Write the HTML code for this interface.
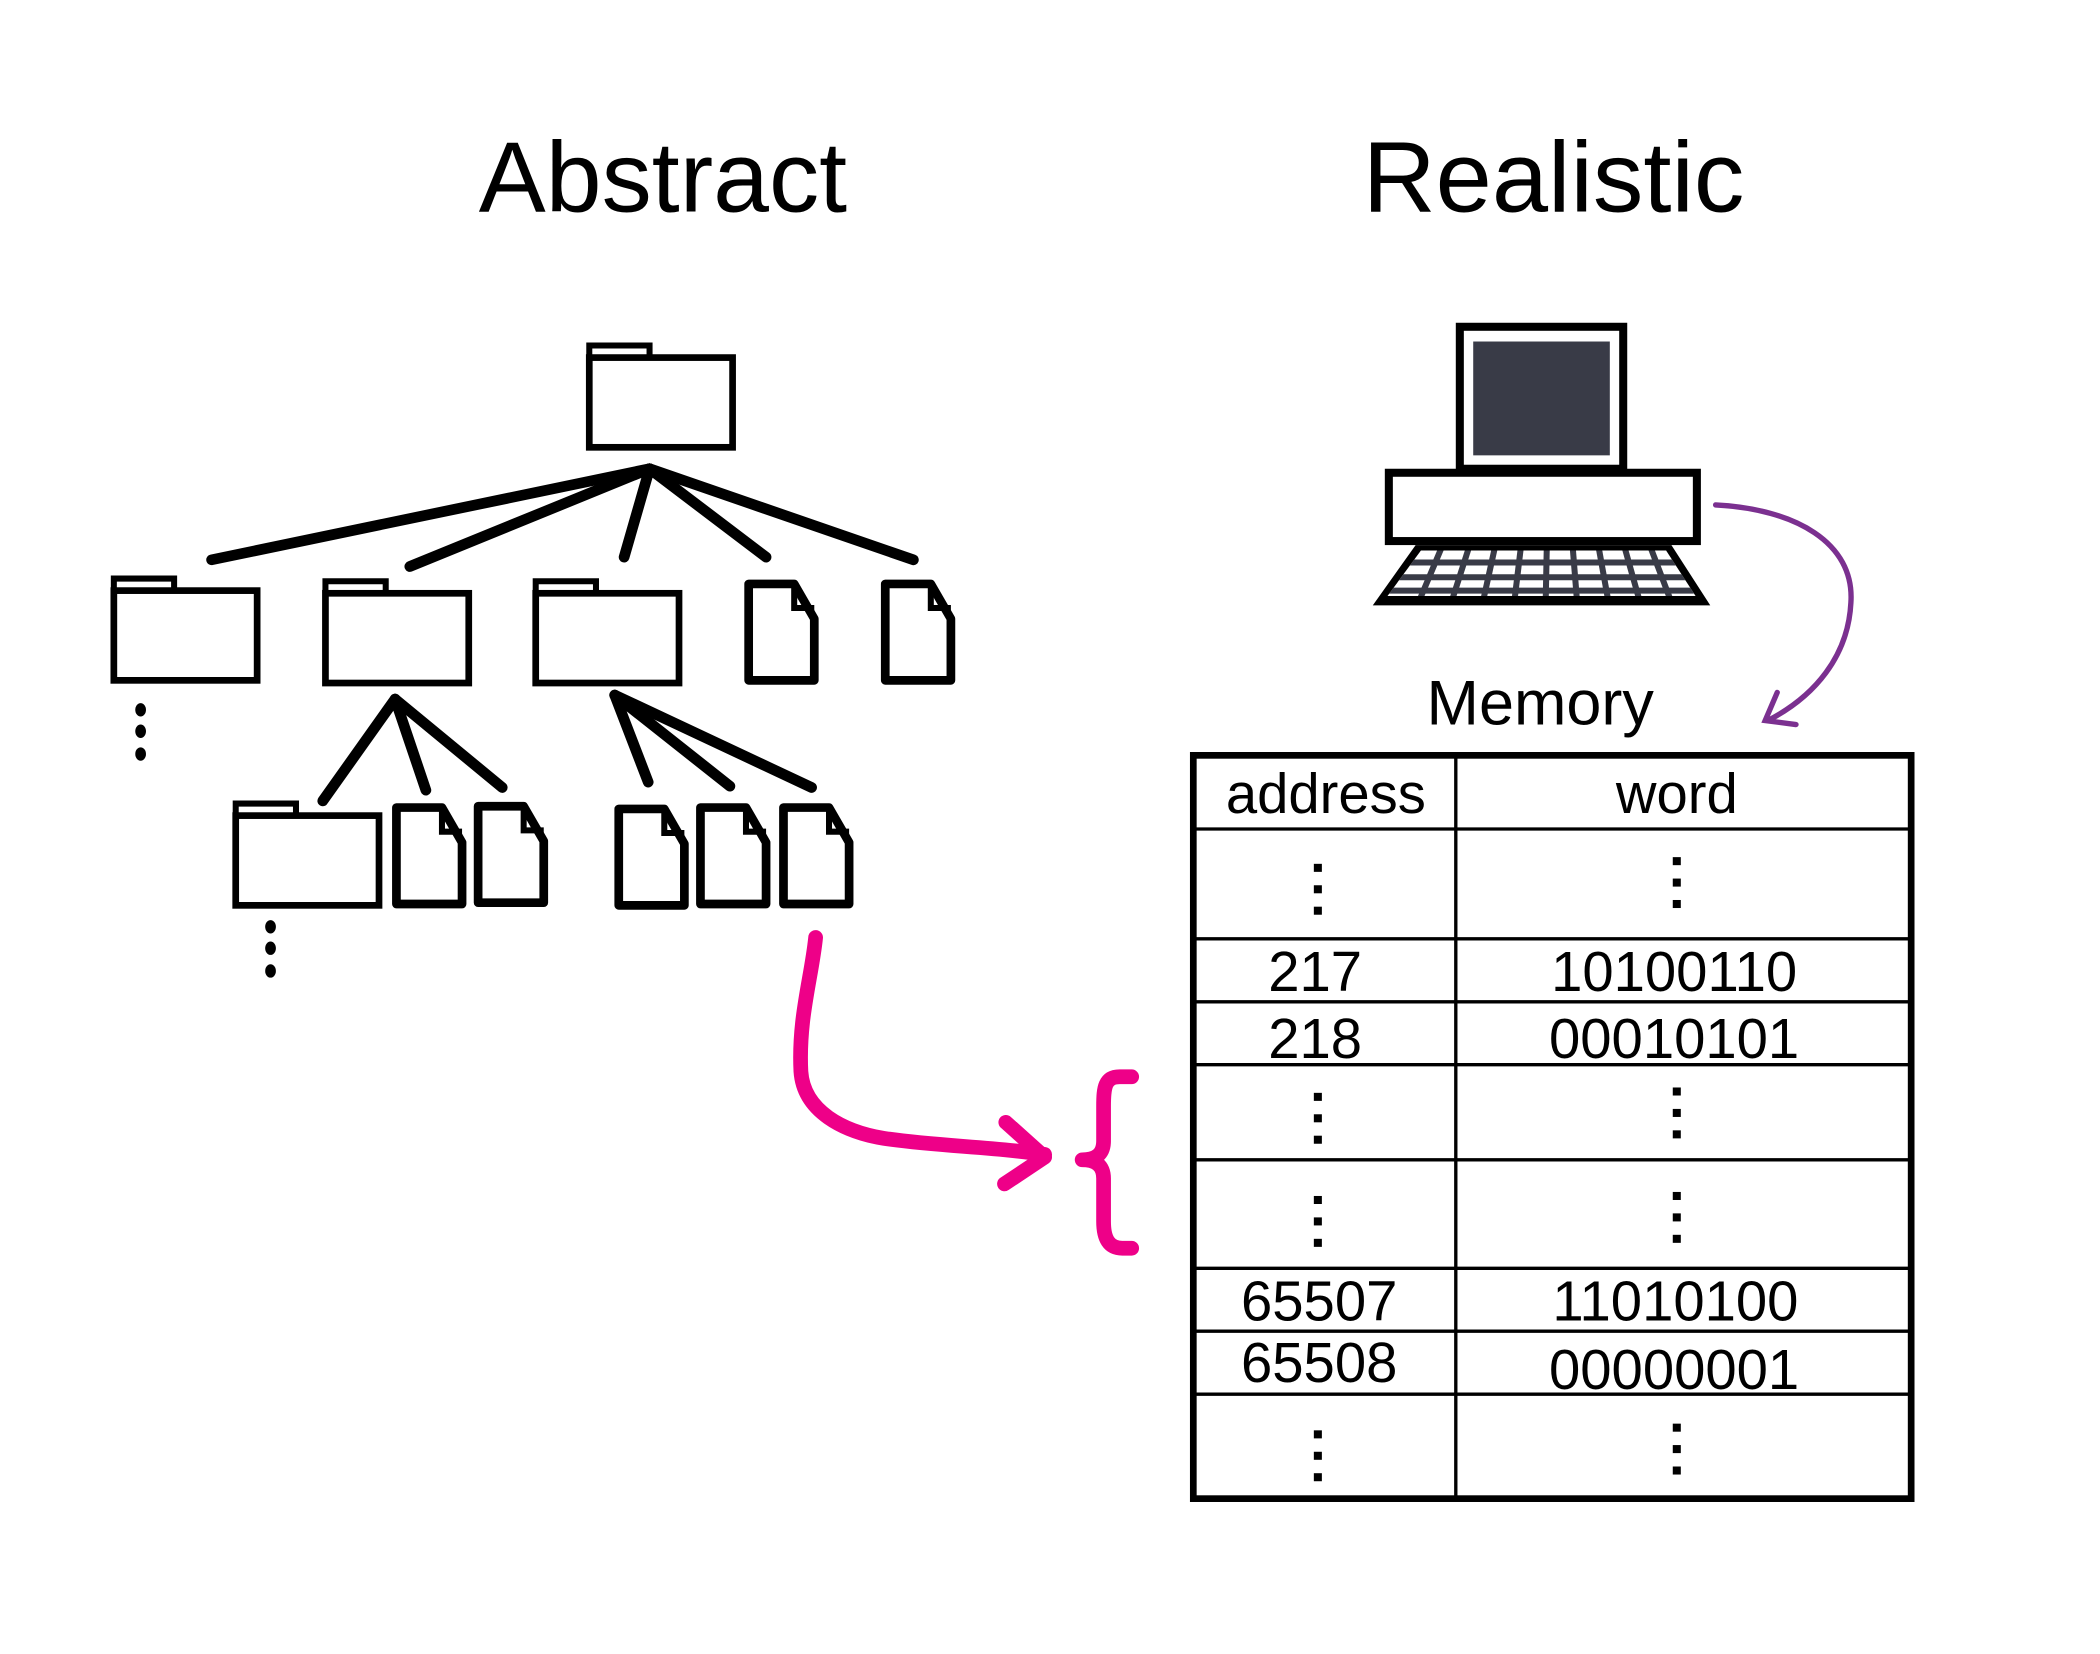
<!DOCTYPE html>
<html><head><meta charset="utf-8"><style>html,body{margin:0;padding:0;background:#fff}svg{display:block}</style></head>
<body>
<svg width="2100" height="1654" viewBox="0 0 1568 1235" preserveAspectRatio="none" xmlns="http://www.w3.org/2000/svg" font-family="Liberation Sans, Arial, sans-serif">
<defs>
<g id="fold">
<path d="M0 9 V0 H45 V9" fill="#fff" stroke="#000" stroke-width="4.5"/>
<rect x="0" y="9" width="107" height="67" fill="#fff" stroke="#000" stroke-width="5"/>
</g>
<g id="file">
<path d="M2 2 H36 L51 28 V74 H2 Z" fill="#fff" stroke="#000" stroke-width="6.5" stroke-linejoin="round"/>
<path d="M36 2 V20 H51" fill="none" stroke="#000" stroke-width="4.5"/>
</g>
</defs>
<text x="495" y="158" font-size="75" text-anchor="middle" textLength="275" lengthAdjust="spacingAndGlyphs">Abstract</text>
<text x="1160" y="158" font-size="75" text-anchor="middle" textLength="285" lengthAdjust="spacingAndGlyphs">Realistic</text>

<use href="#fold" x="440" y="258"/>
<g stroke="#000" stroke-width="8" stroke-linecap="round">
<line x1="485" y1="350" x2="158" y2="418"/>
<line x1="485" y1="350" x2="306" y2="423"/>
<line x1="485" y1="350" x2="466" y2="416"/>
<line x1="485" y1="350" x2="572" y2="416"/>
<line x1="485" y1="350" x2="682" y2="418"/>
<line x1="295" y1="522" x2="241" y2="598"/>
<line x1="295" y1="522" x2="318" y2="590"/>
<line x1="295" y1="522" x2="375" y2="588"/>
<line x1="459" y1="519" x2="484" y2="584"/>
<line x1="459" y1="519" x2="545" y2="587"/>
<line x1="459" y1="519" x2="606" y2="588"/>
</g>
<use href="#fold" x="85" y="432"/>
<use href="#fold" x="243" y="434"/>
<use href="#fold" x="400" y="434"/>
<use href="#file" x="557" y="434"/>
<use href="#file" x="659" y="434"/>
<use href="#fold" x="176" y="600"/>
<use href="#file" x="294" y="601"/>
<use href="#file" x="355" y="600"/>
<use href="#file" x="460" y="602"/>
<use href="#file" x="521" y="601"/>
<use href="#file" x="583" y="601"/>
<g fill="#000">
<ellipse cx="105" cy="530" rx="4" ry="5"/><ellipse cx="105" cy="546" rx="4" ry="5"/><ellipse cx="105" cy="563" rx="4" ry="5"/>
<ellipse cx="202" cy="692" rx="4" ry="5"/><ellipse cx="202" cy="708" rx="4" ry="5"/><ellipse cx="202" cy="725" rx="4" ry="5"/>
</g>

<g stroke="#ee0088" stroke-width="11" fill="none" stroke-linecap="round" stroke-linejoin="round">
<path d="M609 700 C606 730 596 760 598 800 C600 830 630 845 660 850 C700 856 740 856 780 862"/>
<path d="M751 838 L780 864 L750 884"/>
<path d="M845 804 H836 C825 804 824 812 824 826 V852 C824 862 818 866 808 866 C818 866 824 870 824 880 V912 C824 925 828 932 838 932 H845"/>
</g>

<rect x="1090" y="244" width="122" height="106" fill="#fff" stroke="#000" stroke-width="6"/>
<rect x="1100" y="255" width="102" height="85" fill="#393b47"/>
<rect x="1037" y="353" width="230" height="51" fill="#fff" stroke="#000" stroke-width="6"/>
<polygon points="1057,407 1248,407 1277,452 1025,452" fill="#000"/>
<clipPath id="kb"><polygon points="1061,411 1244,411 1266,445 1036,445"/></clipPath>
<g clip-path="url(#kb)">
<rect x="1020" y="405" width="260" height="50" fill="#fff"/>
<g stroke="#393b47" stroke-width="4.5">
<line x1="1020" y1="420" x2="1280" y2="420"/><line x1="1020" y1="431" x2="1280" y2="431"/><line x1="1020" y1="441" x2="1280" y2="441"/>
<line x1="1078" y1="405" x2="1057" y2="455"/><line x1="1098" y1="405" x2="1082" y2="455"/><line x1="1117" y1="405" x2="1106" y2="455"/><line x1="1136" y1="405" x2="1130" y2="455"/><line x1="1155" y1="405" x2="1154" y2="455"/><line x1="1174" y1="405" x2="1178" y2="455"/><line x1="1193" y1="405" x2="1202" y2="455"/><line x1="1212" y1="405" x2="1226" y2="455"/><line x1="1231" y1="405" x2="1250" y2="455"/>
</g>
</g>
<g stroke="#7b3090" stroke-width="4" fill="none" stroke-linecap="round">
<path d="M1281 377 C1340 380 1385 405 1382 450 C1380 490 1355 520 1320 538"/>
<path d="M1327 517 L1318 538 L1341 541"/>
</g>

<text x="1150" y="541" font-size="47" text-anchor="middle">Memory</text>
<g stroke="#000" fill="none">
<rect x="891" y="564" width="536" height="555" stroke-width="5"/>
<line x1="1087" y1="564" x2="1087" y2="1119" stroke-width="2.5"/>
<g stroke-width="2.5">
<line x1="891" y1="619" x2="1427" y2="619"/><line x1="891" y1="701" x2="1427" y2="701"/><line x1="891" y1="748" x2="1427" y2="748"/><line x1="891" y1="795" x2="1427" y2="795"/><line x1="891" y1="866" x2="1427" y2="866"/><line x1="891" y1="947" x2="1427" y2="947"/><line x1="891" y1="994" x2="1427" y2="994"/><line x1="891" y1="1041" x2="1427" y2="1041"/>
</g>
</g>
<g font-size="42" text-anchor="middle">
<text x="990" y="607">address</text><text x="1252" y="607">word</text>
<text x="982" y="740">217</text><text x="1250" y="740">10100110</text>
<text x="982" y="790">218</text><text x="1250" y="790">00010101</text>
<text x="985" y="986">65507</text><text x="1251" y="986">11010100</text>
<text x="985" y="1032">65508</text><text x="1250" y="1037">00000001</text>
</g>
<g fill="#000">
<rect x="981" y="645" width="6" height="6"/><rect x="981" y="661" width="6" height="6"/><rect x="981" y="677" width="6" height="6"/>
<rect x="1249" y="640" width="6" height="6"/><rect x="1249" y="656" width="6" height="6"/><rect x="1249" y="672" width="6" height="6"/>
<rect x="981" y="816" width="6" height="6"/><rect x="981" y="832" width="6" height="6"/><rect x="981" y="848" width="6" height="6"/>
<rect x="1249" y="812" width="6" height="6"/><rect x="1249" y="828" width="6" height="6"/><rect x="1249" y="844" width="6" height="6"/>
<rect x="981" y="893" width="6" height="6"/><rect x="981" y="909" width="6" height="6"/><rect x="981" y="925" width="6" height="6"/>
<rect x="1249" y="890" width="6" height="6"/><rect x="1249" y="906" width="6" height="6"/><rect x="1249" y="922" width="6" height="6"/>
<rect x="981" y="1068" width="6" height="6"/><rect x="981" y="1084" width="6" height="6"/><rect x="981" y="1100" width="6" height="6"/>
<rect x="1249" y="1063" width="6" height="6"/><rect x="1249" y="1079" width="6" height="6"/><rect x="1249" y="1095" width="6" height="6"/>
</g>
</svg>
</body></html>
